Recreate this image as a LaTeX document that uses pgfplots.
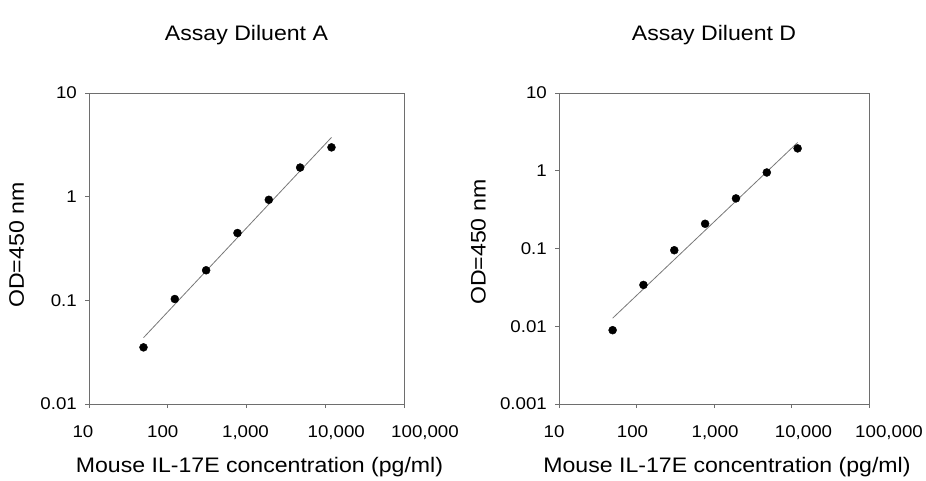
\documentclass[border=0pt]{standalone}
\usepackage{pgfplots}
\pgfplotsset{compat=1.18}
\usepackage{fontspec}
\setmainfont[FakeStretch=1.1]{Liberation Sans}
\definecolor{axgray}{RGB}{110,110,110}
\definecolor{fitgray}{RGB}{120,120,120}
\begin{document}
\begin{tikzpicture}
\useasboundingbox (0,0) rectangle (926pt,480pt);
% Left panel
\begin{axis}[
  xmode=log, ymode=log,
  scale only axis,
  at={(89pt,76pt)}, anchor=south west,
  width=315pt, height=311pt,
  xmin=10, xmax=100000,
  ymin=0.01, ymax=10,
  axis line style={axgray, line width=1pt},
  every tick/.style={axgray, line width=1pt},
  tick align=outside,
  xtick pos=left, ytick pos=left,
  major tick length=4pt,
  xminorticks=false, yminorticks=false,
  xtick={10,100,1000,10000,100000},
  xticklabels={\makebox[0pt]{\hspace*{-12pt}10},\makebox[0pt]{\hspace*{-10pt}100},\makebox[0pt]{\hspace*{-2pt}1,000},\makebox[0pt]{\hspace*{22pt}10,000},\makebox[0pt]{\hspace*{42pt}100,000}},
  ytick={0.01,0.1,1,10},
  yticklabels={0.01,0.1,1,10},
  tick label style={font=\fontsize{17}{20}\selectfont, inner sep=0pt},
  xticklabel style={anchor=base, yshift=-29pt},
  yticklabel style={anchor=east, xshift=-8pt},
  label style={font=\fontsize{21}{25}\selectfont},
  title style={font=\fontsize{21}{25}\selectfont, at={(axis description cs:0.5,1)}, anchor=base, yshift=46.5pt, inner sep=0pt},
  xlabel style={at={(axis description cs:0.5,0)}, anchor=base, xshift=13pt, yshift=-68pt, inner sep=0pt},
  xlabel={Mouse IL-17E concentration (pg/ml)},
  ylabel={OD=450 nm},
  title={Assay Diluent A},
  ylabel style={at={(axis description cs:-0.230,0.511)}, anchor=center, inner sep=0pt},
  clip=false,
]
\addplot[fitgray, line width=0.8pt] coordinates {(49.2,0.0436) (12000,3.73)};
\addplot[only marks, mark=*, mark size=4pt, black] coordinates {
(49.2,0.0352) (122.9,0.103) (307.2,0.195) (768,0.446) (1920,0.933) (4800,1.91) (12000,2.99)};
\end{axis}
% Right panel
\begin{axis}[
  xmode=log, ymode=log,
  scale only axis,
  at={(559pt,76pt)}, anchor=south west,
  width=310pt, height=311pt,
  xmin=10, xmax=100000,
  ymin=0.001, ymax=10,
  axis line style={axgray, line width=1pt},
  every tick/.style={axgray, line width=1pt},
  tick align=outside,
  xtick pos=left, ytick pos=left,
  major tick length=4pt,
  xminorticks=false, yminorticks=false,
  xtick={10,100,1000,10000,100000},
  xticklabels={\makebox[0pt]{\hspace*{-10pt}10},\makebox[0pt]{\hspace*{-8pt}100},\makebox[0pt]{\hspace*{2pt}1,000},\makebox[0pt]{\hspace*{24pt}10,000},\makebox[0pt]{\hspace*{40pt}100,000}},
  ytick={0.001,0.01,0.1,1,10},
  yticklabels={0.001,0.01,0.1,1,10},
  tick label style={font=\fontsize{17}{20}\selectfont, inner sep=0pt},
  xticklabel style={anchor=base, yshift=-29pt},
  yticklabel style={anchor=east, xshift=-8pt},
  label style={font=\fontsize{21}{25}\selectfont},
  title style={font=\fontsize{21}{25}\selectfont, at={(axis description cs:0.5,1)}, anchor=base, yshift=46.5pt, inner sep=0pt},
  xlabel style={at={(axis description cs:0.5,0)}, anchor=base, xshift=13pt, yshift=-68pt, inner sep=0pt},
  xlabel={Mouse IL-17E concentration (pg/ml)},
  ylabel={OD=450 nm},
  title={Assay Diluent D},
  ylabel style={at={(axis description cs:-0.260,0.52)}, anchor=center, inner sep=0pt},
  clip=false,
]
\addplot[fitgray, line width=0.8pt] coordinates {(49.2,0.0127) (12000,2.31)};
\addplot[only marks, mark=*, mark size=4pt, black] coordinates {
(49.2,0.0089) (122.9,0.034) (307.2,0.095) (768,0.208) (1920,0.441) (4800,0.95) (12000,1.94)};
\end{axis}
\end{tikzpicture}
\end{document}
